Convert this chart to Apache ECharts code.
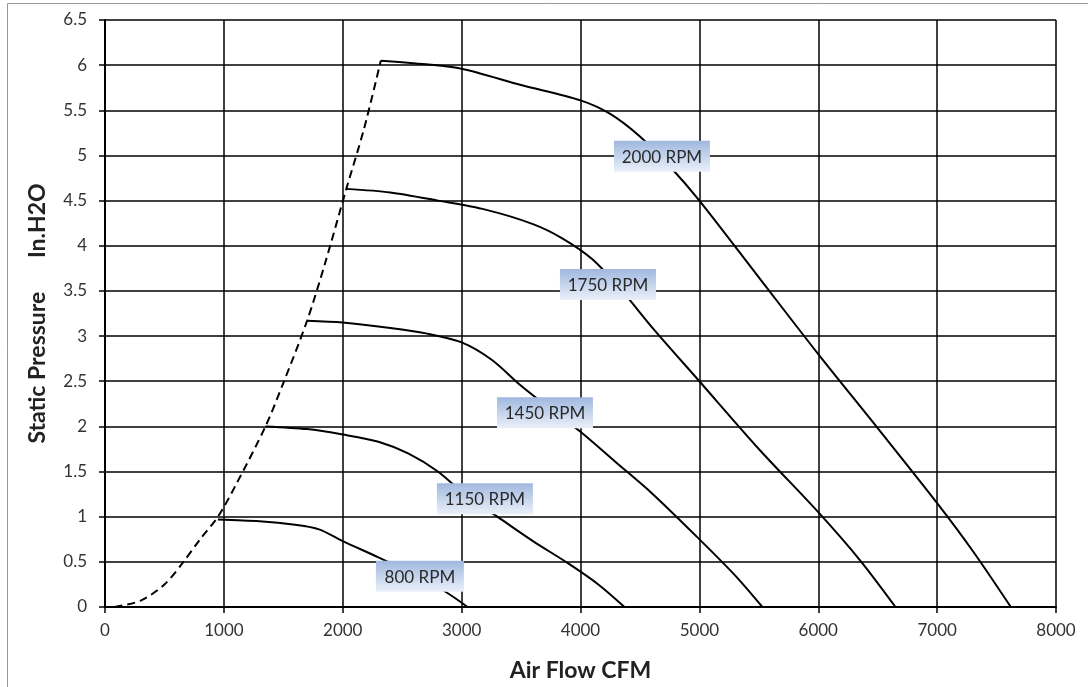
<!DOCTYPE html>
<html><head><meta charset="utf-8">
<script src="https://cdn.jsdelivr.net/npm/echarts@6/dist/echarts.min.js"></script>
<style>html,body{margin:0;padding:0;background:#fff}#c{width:1088px;height:687px}</style>
</head><body><div id="c"></div>
<script>
const xTicks = [0,1000,2000,3000,4000,5000,6000,7000,8000];
const rpm2000 = [[2320,6.05],[2700,6.01],[3000,5.96],[3500,5.78],[4000,5.61],[4250,5.46],[4500,5.21],[4750,4.88],[5000,4.5],[5500,3.65],[6000,2.8],[6500,1.98],[7000,1.15],[7300,0.62],[7620,0]];
const rpm1750 = [[2030,4.63],[2400,4.59],[2800,4.5],[3200,4.4],[3600,4.24],[3850,4.08],[4100,3.85],[4350,3.5],[4600,3.1],[5000,2.5],[5500,1.75],[6000,1.05],[6350,0.52],[6650,0]];
const rpm1450 = [[1700,3.17],[2000,3.15],[2400,3.09],[2700,3.03],[3000,2.93],[3250,2.74],[3500,2.45],[3750,2.19],[4000,1.94],[4300,1.6],[4600,1.26],[5000,0.75],[5300,0.35],[5530,0]];
const rpm1150 = [[1350,2.0],[1700,1.97],[2000,1.91],[2300,1.83],[2550,1.7],[2800,1.5],[3050,1.22],[3300,1.0],[3600,0.73],[3900,0.48],[4150,0.25],[4370,0]];
const rpm800 = [[950,0.97],[1300,0.95],[1600,0.91],[1800,0.86],[2000,0.73],[2300,0.55],[2600,0.36],[2850,0.18],[3050,0]];
const systemCurve = [[80,0],[300,0.07],[500,0.25],[660,0.5],[800,0.75],[950,1.0],[1100,1.35],[1350,2.0],[1500,2.48],[1700,3.17],[1850,3.8],[2030,4.63],[2180,5.3],[2320,6.05]];
const rpmLabels = ['2000 RPM','1750 RPM','1450 RPM','1150 RPM','800 RPM'];
const rpmLabelPos = [[4685,4.99],[4231,3.57],[3701,2.15],[3196,1.2],[2649,0.34]];

const FONT = 'Lato, "Open Sans", sans-serif';
const chart = echarts.init(document.getElementById('c'), null, {renderer:'canvas'});
const solid = (name, data) => ({name, type:'line', data, showSymbol:false, symbol:'none', smooth:0.3,
  lineStyle:{color:'#000', width:2}, z:3});
const option = {
  backgroundColor:'#fff',
  animation:false,
  grid:{left:105, right:32, top:20, bottom:80},
  xAxis:{type:'value', min:0, max:8000, interval:1000,
    name:'Air Flow CFM', nameLocation:'middle', nameGap:52,
    nameTextStyle:{fontFamily:FONT, fontSize:23, fontWeight:'bold', color:'#222'},
    axisLine:{show:true, lineStyle:{color:'#000', width:2}},
    axisTick:{show:true, length:6, lineStyle:{color:'#000', width:1.5}},
    axisLabel:{fontFamily:FONT, fontSize:17, color:'#333', margin:15, formatter:v=>String(v)},
    splitLine:{show:true, lineStyle:{color:'#000', width:1.5}}},
  yAxis:{type:'value', min:0, max:6.5, interval:0.5,
    name:'Static Pressure      In.H2O', nameLocation:'middle', nameGap:56,
    nameTextStyle:{fontFamily:FONT, fontSize:23, fontWeight:'bold', color:'#222'},
    axisLine:{show:true, lineStyle:{color:'#000', width:2}},
    axisTick:{show:true, length:6, lineStyle:{color:'#000', width:1.5}},
    axisLabel:{fontFamily:FONT, fontSize:17, color:'#333', margin:18, formatter:v=>String(v)},
    splitLine:{show:true, lineStyle:{color:'#000', width:1.5}}},
  graphic:[{type:'rect', shape:{x:7.5, y:3.5, width:1100, height:700}, style:{fill:null, stroke:'#999', lineWidth:1}, z:-1}],
  series:[
    solid('2000 RPM', rpm2000),
    solid('1750 RPM', rpm1750),
    solid('1450 RPM', rpm1450),
    solid('1150 RPM', rpm1150),
    solid('800 RPM', rpm800),
    {name:'system', type:'line', data:systemCurve, symbol:'none', smooth:0.3,
      lineStyle:{color:'#000', width:2, type:[8,5]}, z:3},
    {name:'labels', type:'custom', z:5,
      data: rpmLabels.map((t,i)=>[rpmLabelPos[i][0], rpmLabelPos[i][1], i]),
      renderItem:(params, api)=>{
        const p = api.coord([api.value(0), api.value(1)]);
        const txt = rpmLabels[api.value(2)];
        const w = txt.length > 7 ? 96 : 88, h = 31;
        return {type:'group', x:p[0], y:p[1], children:[
          {type:'rect', shape:{x:-w/2, y:-h/2, width:w, height:h},
            style:{fill:new echarts.graphic.LinearGradient(0,0,0,1,[{offset:0,color:'#a0b8df'},{offset:1,color:'#eaf0f9'}])}},
          {type:'text', style:{text:txt, x:0, y:1, align:'center', verticalAlign:'middle',
            font:'17px ' + FONT, fill:'#2a2a2a'}}
        ]};
      }}
  ]
};
chart.setOption(option);
</script></body></html>
